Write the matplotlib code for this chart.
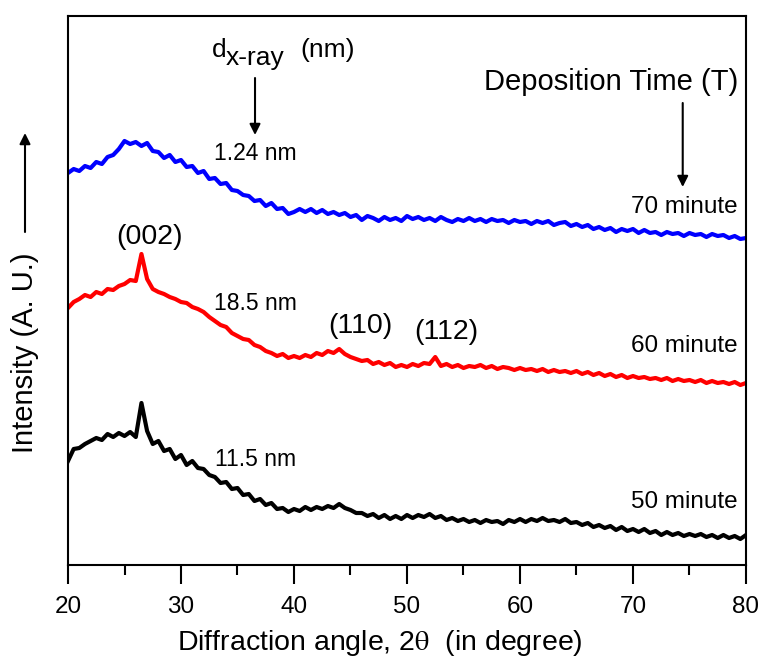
import numpy as np
import matplotlib
matplotlib.use("Agg")
import matplotlib.pyplot as plt
from matplotlib.ticker import MultipleLocator

plt.rcParams['font.family'] = ['Liberation Sans', 'DejaVu Sans']
plt.rcParams['mathtext.fontset'] = 'stix'
plt.rcParams['xtick.direction'] = 'out'

two_theta = np.linspace(20, 80, 121)

t70_blue = [392, 396, 394, 399, 397, 403, 401, 408, 410, 416, 424, 421, 423, 419, 422, 414,
            413, 407, 410, 403, 405, 398, 399, 392, 394, 386, 387, 381, 382, 375, 374, 370,
            369, 364, 365, 359, 362, 356, 357, 351, 353, 356, 353, 356, 352, 355, 351, 353,
            350, 352, 348, 350, 345, 349, 347, 344, 348, 345, 347, 344, 349, 346, 348, 345,
            347, 344, 348, 345, 343, 346, 344, 347, 344, 346, 343, 346, 344, 345, 342, 345,
            343, 344, 341, 344, 342, 344, 340, 342, 343, 339, 341, 338, 340, 336, 338, 335,
            337, 333, 336, 334, 336, 332, 335, 332, 333, 330, 333, 331, 332, 329, 332, 330,
            331, 328, 331, 329, 330, 327, 329, 326, 327]

t60_red = [257, 263, 266, 270, 268, 273, 271, 276, 275, 279, 281, 285, 284, 311, 286, 276,
           273, 271, 268, 266, 263, 262, 258, 256, 253, 248, 244, 240, 238, 232, 229, 226,
           225, 220, 218, 214, 212, 209, 211, 207, 209, 207, 210, 208, 212, 210, 214, 212,
           216, 211, 208, 206, 204, 205, 201, 203, 200, 202, 198, 200, 198, 201, 199, 202,
           201, 208, 199, 201, 198, 200, 197, 199, 198, 200, 197, 199, 196, 198, 197, 195,
           197, 195, 196, 194, 196, 193, 195, 193, 194, 192, 194, 191, 193, 190, 192, 189,
           191, 188, 190, 187, 189, 187, 188, 186, 187, 185, 187, 184, 186, 184, 185, 183,
           185, 182, 184, 182, 183, 181, 183, 180, 182]

t50_black = [104, 116, 117, 121, 124, 127, 125, 131, 128, 132, 129, 133, 128, 162, 134, 121,
             124, 114, 116, 106, 110, 100, 104, 97, 96, 90, 88, 82, 83, 76, 77, 70,
             71, 64, 66, 60, 62, 56, 57, 53, 56, 54, 58, 55, 58, 56, 59, 57,
             61, 57, 55, 52, 52, 49, 51, 47, 50, 46, 49, 46, 50, 47, 50, 48,
             51, 47, 49, 45, 47, 44, 46, 43, 45, 42, 45, 43, 44, 41, 45, 43,
             46, 43, 46, 44, 47, 44, 45, 43, 46, 42, 43, 40, 42, 38, 40, 37,
             39, 35, 38, 34, 36, 33, 36, 32, 34, 30, 33, 30, 32, 29, 31, 29,
             31, 28, 30, 27, 30, 27, 29, 26, 30]

x_ticks = [20, 30, 40, 50, 60, 70, 80]
sizes = ["1.24 nm", "18.5 nm", "11.5 nm"]
times = ["70 minute", "60 minute", "50 minute"]
planes = ["(002)", "(110)", "(112)"]

W, H = 759, 658
fig = plt.figure(figsize=(W / 100, H / 100), dpi=100)
ax = fig.add_axes([68 / W, 1 - 565 / H, (746 - 68) / W, (565 - 16) / H])

ax.plot(two_theta, t70_blue, color='#0000FF', lw=3)
ax.plot(two_theta, t60_red, color='#FF0000', lw=3)
ax.plot(two_theta, t50_black, color='black', lw=3)

ax.set_xlim(20, 80)
ax.set_ylim(0, 549)
ax.set_xticks(x_ticks)
ax.xaxis.set_minor_locator(MultipleLocator(5))
ax.set_yticks([])
ax.tick_params(axis='x', which='both', direction='out', bottom=True, top=False)
ax.tick_params(axis='x', which='major', length=13.5, width=1.5, labelsize=17.5, pad=9)
ax.tick_params(axis='x', which='minor', length=7, width=1.5)
for sp in ax.spines.values():
    sp.set_linewidth(1.5)

# size annotations
ax.text(36.6, 412, sizes[0], fontsize=16.5, ha='center', va='center')
ax.text(36.6, 262, sizes[1], fontsize=16.5, ha='center', va='center')
ax.text(36.6, 105, sizes[2], fontsize=16.5, ha='center', va='center')

# plane labels
ax.text(27.25, 328, planes[0], fontsize=20.5, ha='center', va='center')
ax.text(45.85, 239, planes[1], fontsize=20.5, ha='center', va='center')
ax.text(53.45, 233, planes[2], fontsize=20.5, ha='center', va='center')

# time labels
ax.text(79.3, 358, times[0], fontsize=17.5, ha='right', va='center')
ax.text(79.3, 219, times[1], fontsize=17.5, ha='right', va='center')
ax.text(79.3, 63, times[2], fontsize=17.5, ha='right', va='center')

ax.text(79.3, 483, "Deposition Time (T)", fontsize=21, ha='right', va='center')
ax.annotate("", xy=(74.4, 378), xytext=(74.4, 462),
            arrowprops=dict(arrowstyle='-|>', color='black', lw=1.5,
                            mutation_scale=16, shrinkA=0, shrinkB=0))

# d x-ray header
ax.text(20 + (212 - 68) / 11.3, 565 - 57, "d", fontsize=19, ha='left', va='baseline')
ax.text(20 + (226 - 68) / 11.3, 565 - 65, "x-ray", fontsize=19, ha='left', va='baseline')
ax.text(20 + (300 - 68) / 11.3, 565 - 57, "(nm)", fontsize=19, ha='left', va='baseline')
ax.annotate("", xy=(36.55, 430), xytext=(36.55, 487),
            arrowprops=dict(arrowstyle='-|>', color='black', lw=1.5,
                            mutation_scale=16, shrinkA=0, shrinkB=0))

# axis labels
fig.text(380 / W, 8 / H, r"Diffraction angle, 2$\mathrm{\theta}$  (in degree)", fontsize=20.5,
         ha='center', va='baseline')
fig.text(25 / W, 1 - 353 / H, "Intensity (A. U.)", fontsize=21, rotation=90,
         ha='center', va='center')
ax.annotate("", xy=(25, H - 133), xytext=(25, H - 232), xycoords='figure pixels',
            textcoords='figure pixels',
            arrowprops=dict(arrowstyle='-|>', color='black', lw=1.5,
                            mutation_scale=16, shrinkA=0, shrinkB=0))

fig.savefig("out.png", dpi=100)
